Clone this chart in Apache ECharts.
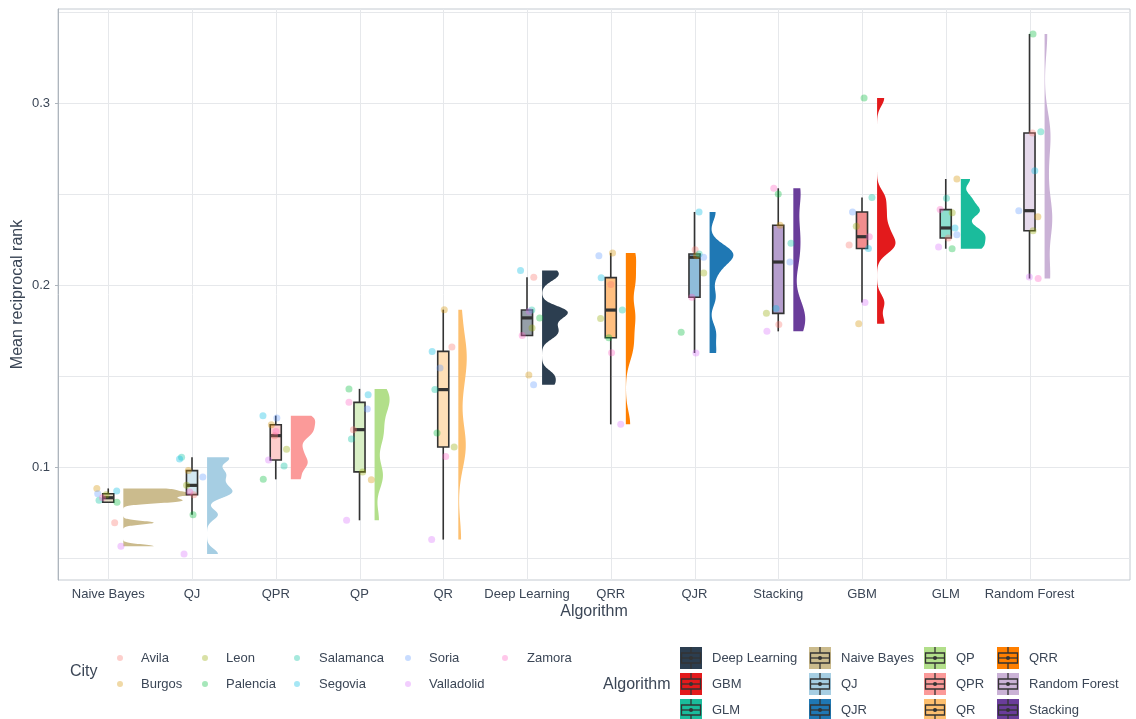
<!DOCTYPE html>
<html>
<head>
<meta charset="utf-8">
<script src="https://cdn.jsdelivr.net/npm/echarts@6/dist/echarts.min.js"></script>
<style>
  html, body { margin: 0; padding: 0; background: #ffffff; }
  #chart { width: 1136px; height: 719px; }
</style>
</head>
<body>
<div id="chart"></div>
<script>
// Cities, in the order every value array below follows
const cities = ['Avila', 'Burgos', 'Leon', 'Palencia', 'Salamanca', 'Segovia', 'Soria', 'Valladolid', 'Zamora'];

// Algorithms along the x axis (ordered by median)
const algorithms = ['Naive Bayes', 'QJ', 'QPR', 'QP', 'QR', 'Deep Learning', 'QRR', 'QJR', 'Stacking', 'GBM', 'GLM', 'Random Forest'];

// Mean reciprocal rank per city for each algorithm
const naiveBayes   = [0.0694, 0.0882, 0.0848, 0.0806, 0.0817, 0.0868, 0.0853, 0.0565, 0.0831];
const qj           = [0.0848, 0.0980, 0.0899, 0.0738, 0.1053, 0.1044, 0.0945, 0.0522, 0.0863];
const qpr          = [0.1172, 0.1232, 0.1097, 0.0932, 0.1005, 0.1282, 0.1269, 0.1038, 0.1195];
const qp           = [0.1205, 0.0930, 0.0973, 0.1429, 0.1154, 0.1397, 0.1319, 0.0707, 0.1355];
const qr           = [0.1659, 0.1864, 0.1110, 0.1187, 0.1425, 0.1635, 0.1544, 0.0601, 0.1058];
const deepLearning = [0.2042, 0.1505, 0.1764, 0.1819, 0.1862, 0.2080, 0.1451, 0.1855, 0.1722];
const qrr          = [0.2003, 0.2176, 0.1815, 0.1710, 0.1862, 0.2040, 0.2161, 0.1234, 0.1628];
const qjr          = [0.2194, 0.2160, 0.2066, 0.1740, 0.2170, 0.2401, 0.2152, 0.1626, 0.1932];
const stacking     = [0.1782, 0.2328, 0.1844, 0.2500, 0.2229, 0.1871, 0.2126, 0.1745, 0.2531];
const gbm          = [0.2220, 0.1787, 0.2322, 0.3027, 0.2481, 0.2200, 0.2401, 0.1904, 0.2265];
const glm          = [0.2258, 0.2582, 0.2397, 0.2199, 0.2476, 0.2313, 0.2276, 0.2209, 0.2414];
const randomForest = [0.2835, 0.2375, 0.2298, 0.3379, 0.2842, 0.2628, 0.2408, 0.2044, 0.2035];

// y axis tick labels and grid lines
const yTicks = [0.1, 0.2, 0.3];
const yGridLines = [0.05, 0.10, 0.15, 0.20, 0.25, 0.30, 0.35];

// Legend order for the algorithm key (column by column)
const algorithmLegend = ['Deep Learning', 'GBM', 'GLM', 'Naive Bayes', 'QJ', 'QJR', 'QP', 'QPR', 'QR', 'QRR', 'Random Forest', 'Stacking'];

// ---- styling ----
const algoColors = {
  'Deep Learning': '#2C3E50', 'GBM': '#E31A1C', 'GLM': '#1ABC9C', 'Naive Bayes': '#CBBB8D',
  'QJ': '#A6CEE3', 'QJR': '#1F78B4', 'QP': '#B2DF8A', 'QPR': '#FB9A99',
  'QR': '#FDBF6F', 'QRR': '#FF7F00', 'Random Forest': '#CAB2D6', 'Stacking': '#6A3D9A'
};
const cityColors = ['#F8766D', '#D39200', '#93AA00', '#00BA38', '#00C19F', '#00B9E3', '#619CFF', '#DB72FB', '#FF61C3'];
const textColor = '#3b4656';
const gridColor = '#e6e8eb';
const fontFamily = '"Liberation Sans", Arial, Helvetica, sans-serif';

const seriesValues = [naiveBayes, qj, qpr, qp, qr, deepLearning, qrr, qjr, stacking, gbm, glm, randomForest];

// ---- statistics: quartiles (type 7), whiskers, kernel density (nrd0 bandwidth) ----
function quantile(sorted, p) {
  const h = (sorted.length - 1) * p;
  const lo = Math.floor(h);
  const hi = Math.min(lo + 1, sorted.length - 1);
  return sorted[lo] + (h - lo) * (sorted[hi] - sorted[lo]);
}
function boxStats(vals) {
  const s = vals.slice().sort((a, b) => a - b);
  const q1 = quantile(s, 0.25), med = quantile(s, 0.5), q3 = quantile(s, 0.75);
  const iqr = q3 - q1;
  const lowFence = q1 - 1.5 * iqr, highFence = q3 + 1.5 * iqr;
  const inside = s.filter(v => v >= lowFence && v <= highFence);
  return { q1, med, q3, lo: inside[0], hi: inside[inside.length - 1] };
}
function bandwidth(vals) {
  const n = vals.length;
  const mean = vals.reduce((a, b) => a + b, 0) / n;
  const sd = Math.sqrt(vals.reduce((a, b) => a + (b - mean) * (b - mean), 0) / (n - 1));
  const s = vals.slice().sort((a, b) => a - b);
  const iqr = quantile(s, 0.75) - quantile(s, 0.25);
  let lo = Math.min(sd, iqr / 1.34);
  if (!(lo > 0)) lo = sd || Math.abs(s[0]) || 1;
  return 0.9 * lo * Math.pow(n, -0.2);
}
const bwAdjust = 0.5;
function kde(vals) {
  const h = bandwidth(vals) * bwAdjust;
  const n = vals.length;
  const lo = Math.min(...vals), hi = Math.max(...vals);
  const steps = 256;
  const ys = [], ds = [];
  for (let j = 0; j <= steps; j++) {
    const y = lo + (hi - lo) * j / steps;
    let sum = 0;
    for (const v of vals) { const z = (y - v) / h; sum += Math.exp(-0.5 * z * z); }
    ys.push(y);
    ds.push(sum / (n * h * Math.sqrt(2 * Math.PI)));
  }
  return { ys, ds };
}

const stats = seriesValues.map(boxStats);
const densities = seriesValues.map(kde);
const maxDensity = Math.max(...densities.map(k => Math.max(...k.ds)));

// layout of the half violins and boxes, in x-axis units
const violinOffset = 0.18;
const violinMaxWidth = 0.85;
const boxHalfWidth = 0.066;

// deterministic horizontal jitter for the city points
function jitter(a, c) {
  const t = Math.sin((a + 1) * 12.9898 + (c + 1) * 78.233) * 43758.5453;
  return (t - Math.floor(t)) * 0.32 - 0.16;
}

// ---- series ----
const gridSeries = {
  type: 'custom', name: 'grid', silent: true, z: 0,
  data: [[0]],
  renderItem(params, api) {
    const cs = params.coordSys;
    const children = [];
    yGridLines.forEach(v => {
      const y = Math.round(api.coord([1, v])[1]) + 0.5;
      if (y < cs.y || y > cs.y + cs.height) return;
      children.push({ type: 'line', shape: { x1: cs.x, y1: y, x2: cs.x + cs.width, y2: y },
        style: { stroke: gridColor, lineWidth: 1 } });
    });
    algorithms.forEach((_, i) => {
      const x = Math.round(api.coord([i + 1, 0.1])[0]) + 0.5;
      children.push({ type: 'line', shape: { x1: x, y1: cs.y, x2: x, y2: cs.y + cs.height },
        style: { stroke: gridColor, lineWidth: 1 } });
    });
    return { type: 'group', children };
  }
};

const violinSeries = {
  type: 'custom', name: 'violins', silent: true, z: 1,
  data: algorithms.map((_, i) => [i]),
  renderItem(params, api) {
    const i = api.value(0);
    const k = densities[i];
    const base = i + 1 + violinOffset;
    const pts = [];
    for (let j = 0; j < k.ys.length; j++) {
      pts.push(api.coord([base + k.ds[j] / maxDensity * violinMaxWidth, k.ys[j]]));
    }
    for (let j = k.ys.length - 1; j >= 0; j--) pts.push(api.coord([base, k.ys[j]]));
    return { type: 'polygon', shape: { points: pts }, style: { fill: algoColors[algorithms[i]] } };
  }
};

const boxSeries = {
  type: 'custom', name: 'boxes', silent: true, z: 2,
  data: algorithms.map((_, i) => [i]),
  renderItem(params, api) {
    const i = api.value(0);
    const s = stats[i];
    const x = i + 1;
    const tl = api.coord([x - boxHalfWidth, s.q3]);
    const br = api.coord([x + boxHalfWidth, s.q1]);
    const top = api.coord([x, s.hi]);
    const bot = api.coord([x, s.lo]);
    const m = api.coord([x, s.med]);
    const stroke = '#333333';
    return {
      type: 'group',
      children: [
        { type: 'line', shape: { x1: top[0], y1: top[1], x2: top[0], y2: tl[1] }, style: { stroke, lineWidth: 1.6 } },
        { type: 'line', shape: { x1: bot[0], y1: br[1], x2: bot[0], y2: bot[1] }, style: { stroke, lineWidth: 1.6 } },
        { type: 'rect', shape: { x: tl[0], y: tl[1], width: br[0] - tl[0], height: br[1] - tl[1] },
          style: { fill: algoColors[algorithms[i]] } },
        { type: 'rect', shape: { x: tl[0], y: tl[1], width: br[0] - tl[0], height: br[1] - tl[1] },
          style: { fill: 'rgba(255,255,255,0.5)', stroke, lineWidth: 1.6 } },
        { type: 'line', shape: { x1: tl[0], y1: m[1], x2: br[0], y2: m[1] }, style: { stroke, lineWidth: 3.2 } }
      ]
    };
  }
};

const pointSeries = cities.map((city, c) => ({
  type: 'scatter', name: city, z: 3, silent: true,
  symbolSize: 7,
  itemStyle: { color: cityColors[c], opacity: 0.35 },
  data: seriesValues.map((vals, a) => [a + 1 + jitter(a, c), vals[c]])
}));

// ---- legends drawn as graphics ----
const graphics = [];
graphics.push({ type: 'text', x: 70, y: 672, style: { text: 'City', fontSize: 16, fill: textColor, fontFamily, verticalAlign: 'middle' } });
const cityColX = [120, 205, 297, 408, 505];
const cityTextX = [141, 226, 319, 429, 527];
const cityRowY = [658, 684];
cities.forEach((city, c) => {
  const col = Math.floor(c / 2), row = c % 2;
  graphics.push({ type: 'circle', shape: { cx: cityColX[col], cy: cityRowY[row], r: 3 },
    style: { fill: cityColors[c], opacity: 0.35 } });
  graphics.push({ type: 'text', x: cityTextX[col], y: cityRowY[row],
    style: { text: city, fontSize: 13, fill: textColor, fontFamily, verticalAlign: 'middle' } });
});

graphics.push({ type: 'text', x: 603, y: 685, style: { text: 'Algorithm', fontSize: 16, fill: textColor, fontFamily, verticalAlign: 'middle' } });
const algoColX = [680, 809, 924, 997];
const algoTextX = [712, 841, 956, 1029];
const algoRowY = [658, 684, 710];
algorithmLegend.forEach((name, k) => {
  const col = Math.floor(k / 3), row = k % 3;
  const x = algoColX[col], yc = algoRowY[row];
  const y = yc - 11;
  const cx = x + 11;
  const g = '#333333';
  graphics.push({ type: 'group', children: [
    { type: 'rect', shape: { x, y, width: 22, height: 22 }, style: { fill: algoColors[name] } },
    { type: 'line', shape: { x1: cx, y1: y, x2: cx, y2: y + 6 }, style: { stroke: g, lineWidth: 1.3 } },
    { type: 'line', shape: { x1: cx, y1: y + 16, x2: cx, y2: y + 22 }, style: { stroke: g, lineWidth: 1.3 } },
    { type: 'rect', shape: { x: x + 1.5, y: y + 6, width: 19, height: 10 }, style: { fill: 'none', stroke: g, lineWidth: 1.3 } },
    { type: 'line', shape: { x1: x + 1.5, y1: y + 11, x2: x + 20.5, y2: y + 11 }, style: { stroke: g, lineWidth: 1.3 } },
    { type: 'circle', shape: { cx, cy: y + 11, r: 2 }, style: { fill: g } }
  ]});
  graphics.push({ type: 'text', x: algoTextX[col], y: yc,
    style: { text: name, fontSize: 13, fill: textColor, fontFamily, verticalAlign: 'middle' } });
});

const chart = echarts.init(document.getElementById('chart'), null, { renderer: 'canvas' });
chart.setOption({
  animation: false,
  backgroundColor: '#ffffff',
  textStyle: { fontFamily },
  grid: {
    left: 58, right: 6, top: 9, bottom: 139,
    containLabel: false, outerBoundsMode: 'none',
    show: true, borderColor: '#c4cad1', borderWidth: 1, backgroundColor: 'transparent'
  },
  xAxis: {
    type: 'value', min: 0.4, max: 13.2,
    axisLine: { show: false }, axisTick: { show: false }, splitLine: { show: false },
    axisLabel: {
      customValues: algorithms.map((_, i) => i + 1),
      formatter: v => algorithms[Math.round(v) - 1],
      fontSize: 13, color: textColor, margin: 8, fontFamily
    },
    name: 'Algorithm', nameLocation: 'middle', nameGap: 24, nameMoveOverlap: false,
    nameTextStyle: { fontSize: 16, color: textColor, fontFamily }
  },
  yAxis: {
    type: 'value', min: 0.0379, max: 0.3516,
    axisLine: { show: true, lineStyle: { color: '#aeb5bd', width: 1 } },
    axisTick: { show: true, customValues: yTicks, length: 3, lineStyle: { color: '#aeb5bd' } },
    splitLine: { show: false },
    axisLabel: {
      customValues: yTicks,
      formatter: v => v.toFixed(1),
      fontSize: 13, color: textColor, margin: 8, fontFamily
    },
    name: 'Mean reciprocal rank', nameLocation: 'middle', nameGap: 32, nameMoveOverlap: false,
    nameTextStyle: { fontSize: 16, color: textColor, fontFamily }
  },
  graphic: graphics,
  series: [gridSeries, violinSeries, boxSeries, ...pointSeries]
});
</script>
</body>
</html>
